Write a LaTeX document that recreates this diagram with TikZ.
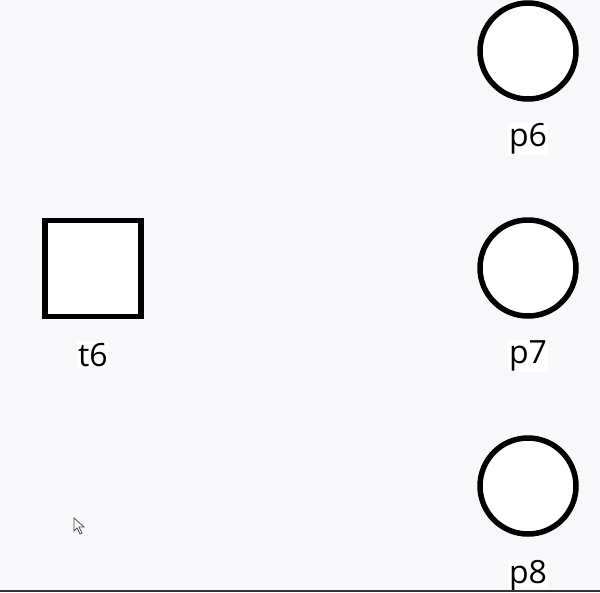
\documentclass[tikz,border=0pt]{standalone}
\usepackage{fontspec}
\setmainfont{Open Sans}
\usetikzlibrary{positioning}
\definecolor{canvas}{HTML}{F8F7FA}
\tikzset{
    place/.style={circle, draw=black, line width=5.5pt, fill=white, minimum size=96pt, inner sep=0pt},
    transition/.style={rectangle, draw=black, line width=5.5pt, fill=white, minimum size=96pt, inner sep=0pt},
    lbl/.style={fill=white, inner sep=1pt, font=\fontsize{32}{36}\selectfont}
}
\begin{document}
\begin{tikzpicture}[x=1pt,y=-1pt]
    % canvas
    \fill[canvas] (0,0) rectangle (600,592);
    \useasboundingbox (0,0) rectangle (600,592);

    % transition
    \node[transition] (t6) at (93,268.5) {};
    \node[lbl] (t6lbl) at (93,355) {t6};

    % places
    \node[place] (p6) at (528,51) {};
    \node[lbl] (p6lbl) at (528,139) {p6};
    \node[place] (p7) at (528,268) {};
    \node[lbl] (p7lbl) at (528,356) {p7};
    \node[place] (p8) at (528,486) {};
    \node[lbl] (p8lbl) at (528,576) {p8};

    % bottom edge
    \draw[line width=2pt, black!80] (0,591) -- (600,591);

    % mouse pointer
    \draw[fill=white, draw=black!70, line width=0.8pt, line join=miter]
        (74,518) -- (74,531) -- (77,528) -- (80,534) -- (82,533) -- (79,527) -- (84,527) -- cycle;
\end{tikzpicture}
\end{document}
